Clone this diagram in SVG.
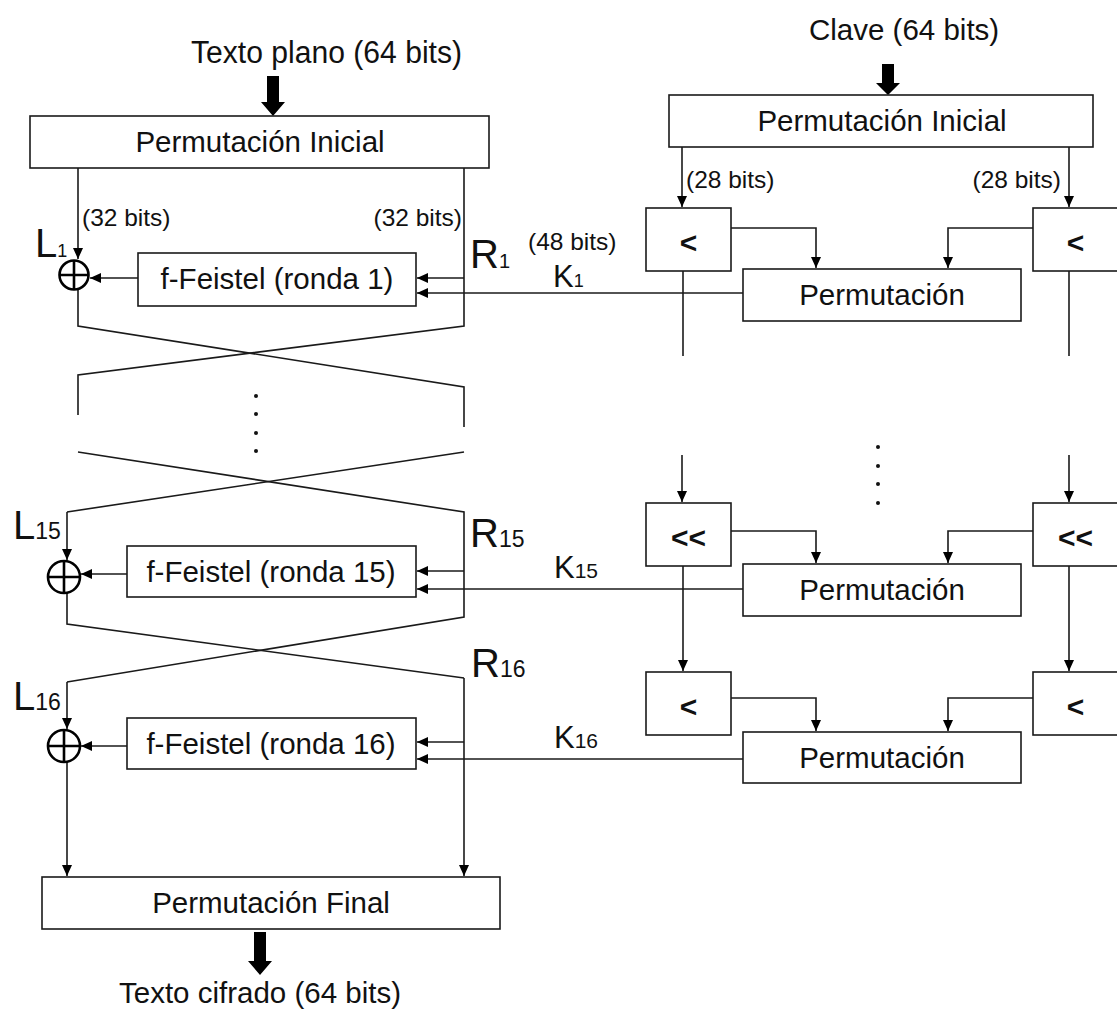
<svg xmlns="http://www.w3.org/2000/svg" width="1117" height="1010" viewBox="0 0 1117 1010">
<style>
  .box{fill:#fff;stroke:#1a1a1a;stroke-width:1.6}
  .ln{fill:none;stroke:#1a1a1a;stroke-width:1.6}
  .ar{fill:none;stroke:#1a1a1a;stroke-width:1.6;marker-end:url(#ah)}
  .xor{fill:none;stroke:#000;stroke-width:2.6}
  .t{font-family:"Liberation Sans",Arial,sans-serif;fill:#111}
  .lbl{font-size:29.5px;text-anchor:middle}
  .sm{font-size:24.5px}
  .sh{font-size:30px;font-weight:bold;text-anchor:middle}
  .big{font-size:40px}
  .k{font-size:31px}
  .dot{fill:#111}
  .thick{fill:#000}
</style>
<defs>
  <marker id="ah" markerUnits="userSpaceOnUse" markerWidth="12" markerHeight="10" refX="11" refY="5" orient="auto">
    <path d="M0,0 L11,5 L0,10 z" fill="#000"/>
  </marker>
</defs>
<rect width="1117" height="1010" fill="#fff"/>

<g id="connectors">
  <!-- left datapath -->
  <path class="ar" d="M78,168 V259"/>
  <path class="ln" d="M78,290 V326 L464,387 V427"/>
  <path class="ln" d="M464,168 V326 L78,375 V415"/>
  <path class="ar" d="M464,278 H417"/>
  <path class="ar" d="M138,278 H90"/>
  <path class="ar" d="M743,293 H417"/>
  <path class="ln" d="M78,452 L464,512 V617 L67,682"/>
  <path class="ar" d="M67,682 V729"/>
  <path class="ln" d="M464,452 L67,512"/>
  <path class="ar" d="M67,512 V560"/>
  <path class="ln" d="M67,593 V624 L464,678"/>
  <path class="ar" d="M464,678 V876"/>
  <path class="ar" d="M464,571 H417"/>
  <path class="ar" d="M127,574 H81"/>
  <path class="ar" d="M743,589 H417"/>
  <path class="ar" d="M464,742 H417"/>
  <path class="ar" d="M743,759 H417"/>
  <path class="ar" d="M127,746 H81"/>
  <path class="ar" d="M67,762 V876"/>
  <!-- key schedule -->
  <path class="ar" d="M682,147 V207"/>
  <path class="ar" d="M1069,147 V207"/>
  <path class="ar" d="M731,228 H816 V268"/>
  <path class="ar" d="M1033,228 H948 V268"/>
  <path class="ln" d="M683,271 V356"/>
  <path class="ln" d="M1069,271 V356"/>
  <path class="ar" d="M682,455 V502"/>
  <path class="ar" d="M1069,455 V502"/>
  <path class="ar" d="M731,531 H816 V563"/>
  <path class="ar" d="M1033,531 H948 V563"/>
  <path class="ar" d="M683,566 V671"/>
  <path class="ar" d="M1069,566 V671"/>
  <path class="ar" d="M731,698 H816 V731"/>
  <path class="ar" d="M1033,698 H948 V731"/>
  <!-- thick I/O arrows -->
  <polygon class="thick" points="267,76 279,76 279,102 285,102 273,116 261,102 267,102"/>
  <polygon class="thick" points="882,64 894,64 894,83 900,83 888,95 876,83 882,83"/>
  <polygon class="thick" points="254,932 266,932 266,961 272,961 260,975 248,961 254,961"/>
</g>

<g id="labels">
  <text class="t" x="191" y="63" font-size="31" textLength="271" lengthAdjust="spacingAndGlyphs">Texto plano (64 bits)</text>
  <text class="t" x="809" y="40" font-size="29.5">Clave (64 bits)</text>
  <text class="t lbl" x="260" y="1003">Texto cifrado (64 bits)</text>
  <text class="t sm" x="82" y="226">(32 bits)</text>
  <text class="t sm" x="462" y="226" text-anchor="end">(32 bits)</text>
  <text class="t sm" x="686" y="188">(28 bits)</text>
  <text class="t sm" x="1061" y="188" text-anchor="end">(28 bits)</text>
  <text class="t sm" x="528" y="250">(48 bits)</text>
  <text class="t big" x="35" y="257">L<tspan font-size="18">1</tspan></text>
  <text class="t big" x="470" y="268" font-size="39">R<tspan font-size="20">1</tspan></text>
  <text class="t k" x="553" y="287">K<tspan font-size="18">1</tspan></text>
  <text class="t big" x="13" y="539">L<tspan font-size="23">15</tspan></text>
  <text class="t big" x="470" y="547">R<tspan font-size="23">15</tspan></text>
  <text class="t k" x="554" y="578">K<tspan font-size="21">15</tspan></text>
  <text class="t big" x="13" y="710">L<tspan font-size="23">16</tspan></text>
  <text class="t big" x="471" y="677">R<tspan font-size="23">16</tspan></text>
  <text class="t k" x="554" y="748">K<tspan font-size="21">16</tspan></text>
  <circle class="dot" cx="256" cy="396" r="2"/>
  <circle class="dot" cx="256" cy="414" r="2"/>
  <circle class="dot" cx="256" cy="433" r="2"/>
  <circle class="dot" cx="256" cy="451" r="2"/>
  <circle class="dot" cx="878" cy="447" r="2"/>
  <circle class="dot" cx="878" cy="466" r="2"/>
  <circle class="dot" cx="878" cy="484" r="2"/>
  <circle class="dot" cx="878" cy="503" r="2"/>
</g>

<g id="perm-inicial-texto">
  <rect class="box" x="30" y="116" width="459" height="52"/>
  <text class="t lbl" x="260" y="152">Permutación Inicial</text>
</g>
<g id="feistel-1">
  <rect class="box" x="138" y="253" width="278" height="53"/>
  <text class="t lbl" x="277" y="289">f-Feistel (ronda 1)</text>
</g>
<g id="feistel-15">
  <rect class="box" x="127" y="546" width="289" height="51"/>
  <text class="t lbl" x="271" y="582">f-Feistel (ronda 15)</text>
</g>
<g id="feistel-16">
  <rect class="box" x="127" y="718" width="289" height="51"/>
  <text class="t lbl" x="271" y="754">f-Feistel (ronda 16)</text>
</g>
<g id="perm-final">
  <rect class="box" x="42" y="877" width="458" height="52"/>
  <text class="t lbl" x="271" y="913">Permutación Final</text>
</g>
<g id="xor-1">
  <circle class="xor" cx="74" cy="275" r="14.5"/>
  <path class="xor" d="M59.5,275 H88.5 M74,260.5 V289.5"/>
</g>
<g id="xor-15">
  <circle class="xor" cx="64" cy="577" r="16"/>
  <path class="xor" d="M48,577 H80 M64,561 V593"/>
</g>
<g id="xor-16">
  <circle class="xor" cx="64" cy="746" r="16"/>
  <path class="xor" d="M48,746 H80 M64,730 V762"/>
</g>

<g id="perm-inicial-clave">
  <rect class="box" x="669" y="95" width="424" height="52"/>
  <text class="t lbl" x="882" y="131">Permutación Inicial</text>
</g>
<g id="shift-1-izq">
  <rect class="box" x="646" y="208" width="85" height="63"/>
  <text class="t sh" x="688.5" y="253">&lt;</text>
</g>
<g id="shift-1-der">
  <rect class="box" x="1033" y="208" width="85" height="63"/>
  <text class="t sh" x="1075.5" y="253">&lt;</text>
</g>
<g id="perm-1">
  <rect class="box" x="743" y="269" width="278" height="52"/>
  <text class="t lbl" x="882" y="305">Permutación</text>
</g>
<g id="shift-15-izq">
  <rect class="box" x="646" y="503" width="85" height="63"/>
  <text class="t sh" x="688.5" y="548">&lt;&lt;</text>
</g>
<g id="shift-15-der">
  <rect class="box" x="1033" y="503" width="85" height="63"/>
  <text class="t sh" x="1075.5" y="548">&lt;&lt;</text>
</g>
<g id="perm-15">
  <rect class="box" x="743" y="564" width="278" height="52"/>
  <text class="t lbl" x="882" y="600">Permutación</text>
</g>
<g id="shift-16-izq">
  <rect class="box" x="646" y="672" width="85" height="63"/>
  <text class="t sh" x="688.5" y="717">&lt;</text>
</g>
<g id="shift-16-der">
  <rect class="box" x="1033" y="672" width="85" height="63"/>
  <text class="t sh" x="1075.5" y="717">&lt;</text>
</g>
<g id="perm-16">
  <rect class="box" x="743" y="732" width="278" height="51"/>
  <text class="t lbl" x="882" y="768">Permutación</text>
</g>
</svg>
